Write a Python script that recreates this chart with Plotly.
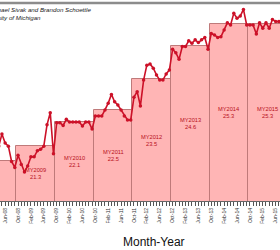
import pandas as pd
import plotly.graph_objects as go

# ---- data ----
month_labels = [d.strftime("%b-%y") for d in pd.date_range("2007-10-01", "2015-07-01", freq="MS")]
mpg = [20.1, 20.3, 20.5, 20.6, 20.7, 20.8, 21.3, 21.7, 21.4, 21.3, 20.8, 20.6,
       21.0, 20.7, 20.45, 20.65, 20.95, 20.95, 21.15, 21.2, 21.3, 22.0, 22.4, 21.05,
       22.07, 22.07, 21.98, 22.18, 22.09, 22.09, 22.09, 22.09, 21.96, 22.09, 22.09, 21.86,
       22.29, 22.29, 22.29, 22.49, 22.71, 23.0, 22.76, 22.65, 22.49, 22.29, 22.16, 22.16,
       22.91, 23.09, 22.62, 23.47, 23.96, 24.0, 23.86, 23.64, 23.47, 23.47, 23.67, 23.8,
       24.48, 24.37, 24.15, 24.57, 24.57, 24.76, 24.68, 24.79, 24.7, 24.79, 24.87, 24.48,
       25.0, 24.95, 24.87, 24.89, 25.11, 25.35, 25.28, 25.66, 25.5, 25.57, 25.79, 25.28,
       25.28, 25.28, 24.98, 25.35, 25.17, 25.35, 25.17, 25.46, 25.39, 25.39]
model_years = ["MY2008", "MY2009", "MY2010", "MY2011", "MY2012", "MY2013", "MY2014", "MY2015"]
my_values = [20.8, 21.3, 22.1, 22.5, 23.5, 24.6, 25.3, 25.3]

y_min, y_max = 19.5, 26.0
months_x = list(range(len(month_labels)))
bar_x = [5.5 + 12 * i for i in range(len(model_years))]

tick_text = [lab if i % 4 == 0 else "" for i, lab in enumerate(month_labels)]

fig = go.Figure()
fig.add_trace(go.Bar(
    x=bar_x, y=my_values, width=12,
    marker=dict(color="#ffb5b5", line=dict(color="#bf7a7a", width=1)),
    hoverinfo="skip",
))
fig.add_trace(go.Scatter(
    x=months_x, y=mpg, mode="lines+markers",
    line=dict(color="#cc1128", width=1.6),
    marker=dict(color="#cc1128", size=3.5),
))

annotations = []
for xb, name, v in zip(bar_x, model_years, my_values):
    annotations.append(dict(
        x=xb, y=(y_min + v) / 2, xref="x", yref="y",
        text=f"{name}<br>{v:.1f}", showarrow=False,
        font=dict(family="Liberation Sans, Arial", size=5.7, color="#b8101c"),
        align="center",
    ))
annotations += [
    dict(x=93 / 280, y=0.965, xref="paper", yref="paper", xanchor="right", yanchor="middle",
         text="<i>Michael Sivak and Brandon Schoettle</i>", showarrow=False,
         font=dict(family="Liberation Sans, Arial", size=6.2, color="#1a1a1a")),
    dict(x=43 / 280, y=0.928, xref="paper", yref="paper", xanchor="right", yanchor="middle",
         text="<i>University of Michigan</i>", showarrow=False,
         font=dict(family="Liberation Sans, Arial", size=6.2, color="#1a1a1a")),
    dict(x=153.5 / 280, y=(201 - 242) / 198, xref="paper", yref="paper",
         xanchor="center", yanchor="middle", text="Month-Year", showarrow=False,
         font=dict(family="Liberation Sans, Arial", size=12, color="#111")),
]

fig.update_layout(
    width=280, height=250,
    margin=dict(l=0, r=0, t=3, b=49),
    paper_bgcolor="white", plot_bgcolor="white",
    showlegend=False, bargap=0,
    annotations=annotations,
    shapes=[dict(type="line", xref="paper", yref="paper", x0=0, x1=1, y0=1.0, y1=1.0,
                 line=dict(color="#8c8c8c", width=2.5))],
    xaxis=dict(range=[6.40, 93.35], tickmode="array", tickvals=months_x, ticktext=tick_text,
               tickangle=-90, tickfont=dict(family="Liberation Sans, Arial", size=5, color="#333"),
               ticks="outside", ticklen=4, tickwidth=1, tickcolor="#555",
               showline=True, linecolor="#666", linewidth=1,
               showgrid=False, zeroline=False, fixedrange=True),
    yaxis=dict(range=[y_min, y_max], visible=False, fixedrange=True),
)

fig.write_html("out.html")
